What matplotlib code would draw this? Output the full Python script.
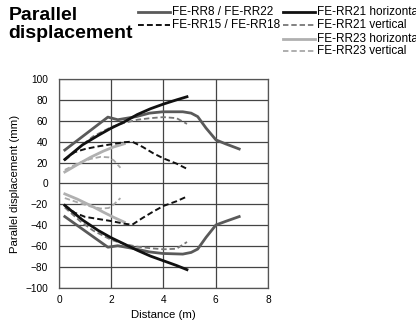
import matplotlib
matplotlib.use("Agg")
import matplotlib.pyplot as plt
from matplotlib.lines import Line2D

plt.rcParams['font.family'] = ['Liberation Sans', 'DejaVu Sans']

# FE-RR8 / FE-RR22 (dark grey solid)
rr8_x = [0.22, 1.87, 2.25, 2.96, 3.46, 3.97, 4.74, 5.06, 5.31, 5.63, 6.01, 6.39, 6.9]
rr8_pos = [32, 63.5, 61, 64, 67.3, 68.6, 68.6, 67.3, 64, 53, 41.7, 37.8, 33]
rr8_neg = [-31.7, -61, -59.6, -62.8, -65.5, -67, -67.6, -66, -62.8, -51.6, -39.7, -36.2, -31.7]

# FE-RR21 horizontal (black solid)
rr21h_x = [0.22, 0.9, 1.5, 2.0, 2.5, 3.0, 3.5, 4.0, 4.5, 4.9]
rr21h_pos = [23, 37, 46, 53, 59, 66, 71.5, 76, 80, 83]
rr21h_neg = [-21, -35, -45, -52, -58, -64, -69.5, -74, -78.5, -82.5]

# FE-RR15 / FE-RR18 (black dashed)
rr15_x = [0.22, 0.6, 1.0, 1.5, 2.0, 2.5, 2.8, 3.2, 3.6, 4.0, 4.5, 4.9]
rr15_pos = [23, 30, 33, 35.5, 37.5, 39.5, 40, 35, 29, 24, 19, 14]
rr15_neg = [-21, -28, -32, -34, -36, -38.5, -39.5, -33, -27, -21.5, -17, -12.5]

# FE-RR21 vertical (grey dashed)
rr21v_x = [0.22, 0.8, 1.3, 2.0, 2.5, 3.0, 3.5, 4.0, 4.5, 4.9]
rr21v_pos = [22, 35, 45, 54, 58, 61, 62.5, 63.5, 62.5, 57]
rr21v_neg = [-23, -36, -45, -54, -58, -60.5, -62, -63, -62.5, -56]

# FE-RR23 horizontal (light grey solid)
rr23h_x = [0.22, 0.7, 1.2, 1.7, 2.1, 2.5]
rr23h_pos = [11, 18, 25, 31, 35, 38]
rr23h_neg = [-10, -15, -21, -27.5, -32.5, -37]

# FE-RR23 vertical (light grey dashed)
rr23v_x = [0.22, 0.7, 1.2, 1.6, 1.9, 2.1, 2.35]
rr23v_pos = [13, 19, 23.5, 25.5, 25, 22, 15]
rr23v_neg = [-14, -18, -22, -24, -23.5, -20, -14]

styles = {
    'rr8': dict(color='#5a5a5a', lw=2.0, ls='-'),
    'rr15': dict(color='#111111', lw=1.4, ls=(0, (3, 1.6))),
    'rr21h': dict(color='#111111', lw=2.0, ls='-'),
    'rr21v': dict(color='#777777', lw=1.3, ls=(0, (3, 1.6))),
    'rr23h': dict(color='#b0b0b0', lw=2.0, ls='-'),
    'rr23v': dict(color='#a8a8a8', lw=1.3, ls=(0, (3, 1.6))),
}

fig = plt.figure(figsize=(4.16, 3.25), dpi=100)
ax = fig.add_axes([0.142, 0.114, 0.502, 0.643])

series = [
    ('rr23v', rr23v_x, rr23v_pos, rr23v_neg),
    ('rr23h', rr23h_x, rr23h_pos, rr23h_neg),
    ('rr21v', rr21v_x, rr21v_pos, rr21v_neg),
    ('rr15', rr15_x, rr15_pos, rr15_neg),
    ('rr8', rr8_x, rr8_pos, rr8_neg),
    ('rr21h', rr21h_x, rr21h_pos, rr21h_neg),
]
for key, xs, yp, yn in series:
    ax.plot(xs, yp, **styles[key])
    ax.plot(xs, yn, **styles[key])

ax.set_xlim(0, 8)
ax.set_ylim(-100, 100)
ax.set_xticks(range(0, 9, 2))
ax.set_yticks(range(-100, 101, 20))
ax.grid(True, color='#444444', lw=0.9)
ax.set_axisbelow(True)
ax.tick_params(length=0, labelsize=7.3)
ax.tick_params(axis='y', pad=8)
ax.tick_params(axis='x', pad=5)
for sp in ax.spines.values():
    sp.set_color('#555555')
    sp.set_linewidth(0.9)
ax.set_xlabel('Distance (m)', fontsize=8.2, labelpad=4)
ax.set_ylabel('Parallel displacement (mm)', fontsize=8.2, labelpad=4)

fig.text(0.02, 0.978, 'Parallel\ndisplacement', fontsize=14, fontweight='bold',
         va='top', ha='left', linespacing=1.05)

# hand-placed legend (two columns)
legend_rows = [
    (0.332, 0.962, 'rr8', 'FE-RR8 / FE-RR22'),
    (0.332, 0.923, 'rr15', 'FE-RR15 / FE-RR18'),
    (0.680, 0.962, 'rr21h', 'FE-RR21 horizontal'),
    (0.680, 0.923, 'rr21v', 'FE-RR21 vertical'),
    (0.680, 0.881, 'rr23h', 'FE-RR23 horizontal'),
    (0.680, 0.843, 'rr23v', 'FE-RR23 vertical'),
]
for x0, y0, key, label in legend_rows:
    st = styles[key]
    fig.add_artist(Line2D([x0, x0 + 0.077], [y0, y0], transform=fig.transFigure,
                          color=st['color'], lw=st['lw'], ls=st['ls']))
    fig.text(x0 + 0.082, y0, label, fontsize=8.5, va='center', ha='left')

fig.savefig('out.png', dpi=100)
